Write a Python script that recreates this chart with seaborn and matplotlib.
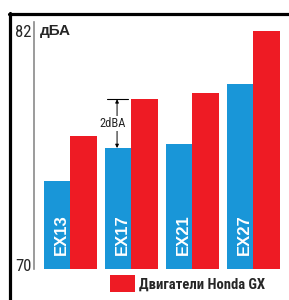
import matplotlib
matplotlib.use("Agg")
import matplotlib.pyplot as plt
import seaborn as sns
import pandas as pd
from matplotlib.lines import Line2D
from matplotlib import font_manager

# данные (дБА)
models = ["EX13", "EX17", "EX21", "EX27"]
robin_dba = [74.3, 76.0, 76.2, 79.3]
honda_dba = [76.6, 78.5, 78.8, 82.0]
legend_label = "Двигатели Honda GX"
unit_label = "дБА"
gap_label = "2dBA"
y_ticks = [70, 82]

sns.set_style("white")
plt.rcParams['font.family'] = ['Liberation Sans', 'DejaVu Sans']

# узкий шрифт, если есть
names = {f.name for f in font_manager.fontManager.ttflist}
narrow_fams = [n for n in ["Liberation Sans Narrow", "DejaVu Sans Condensed",
                           "Roboto Condensed", "Open Sans Condensed"] if n in names]
NARROW = narrow_fams + ['Liberation Sans', 'DejaVu Sans']

BLUE = "#1996d8"
RED = "#ee1b24"

df = pd.DataFrame({"model": models, "pos": range(len(models)),
                   "robin": robin_dba, "honda": honda_dba})
df["pos_red"] = df["pos"] + 0.369

fig = plt.figure(figsize=(2.89, 3.0), dpi=100)
ax = fig.add_axes([34 / 289, 31 / 300, 251 / 289, 247 / 300])

sns.barplot(data=df, x="pos", y="robin", native_scale=True, orient="x",
            width=0.557, color=BLUE, saturation=1, linewidth=0,
            errorbar=None, ax=ax)
sns.barplot(data=df, x="pos_red", y="honda", native_scale=True, orient="x",
            width=0.443, color=RED, saturation=1, linewidth=0,
            errorbar=None, label=legend_label, ax=ax)

ax.set_xlim(-0.443, 3.67)
ax.set_ylim(69.8, 82.46)
ax.set_xticks([])
ax.set_yticks(y_ticks)
ax.set_yticklabels([str(t) for t in y_ticks], family=NARROW, fontsize=12)
ax.tick_params(axis="y", length=0, pad=2)
ax.set_xlabel("")
ax.set_ylabel("")
sns.despine(ax=ax, bottom=True)
ax.spines["left"].set_color("#8a8a8a")
ax.spines["left"].set_linewidth(1.2)

ax.text(0.024, 82, unit_label, transform=ax.get_yaxis_transform(),
        ha="left", va="center", fontsize=11, fontweight="bold")

# подписи моделей внутри синих столбцов
for p, m in zip(df["pos"], df["model"]):
    ax.text(p, 70.5, m, rotation=90, ha="center", va="bottom",
            color="white", fontsize=12, fontweight="bold")

# разница 2 дБ у EX17
i = 1
xa = df["pos"][i] - 0.082
ax.plot([xa - 0.17, xa + 0.18], [honda_dba[i]] * 2, color="black", lw=0.8)
ax.annotate("", xy=(xa, robin_dba[i]), xytext=(xa, honda_dba[i]),
            arrowprops=dict(arrowstyle="<|-|>", color="black", lw=0.7,
                            mutation_scale=5, shrinkA=0, shrinkB=0))
ax.text(xa - 0.08, (robin_dba[i] + honda_dba[i]) / 2, gap_label,
        ha="center", va="center", fontsize=9, family=NARROW,
        bbox=dict(facecolor="white", edgecolor="none", pad=0.5))

ax.legend(loc="upper left", bbox_to_anchor=(110 / 289, 1 - 275 / 300),
          bbox_transform=fig.transFigure, frameon=False, borderpad=0,
          borderaxespad=0, handlelength=1.7, handleheight=1.4,
          handletextpad=0.3,
          prop={"family": NARROW, "weight": "bold", "size": 10.5})

# рамка
fig.add_artist(Line2D([10 / 289, 10 / 289], [0, 1 - 12.5 / 300],
                      transform=fig.transFigure, color="black", lw=2.3))
fig.add_artist(Line2D([8.5 / 289, 1], [1 - 14 / 300] * 2,
                      transform=fig.transFigure, color="black", lw=2.3))

fig.savefig("out.png", dpi=100)
